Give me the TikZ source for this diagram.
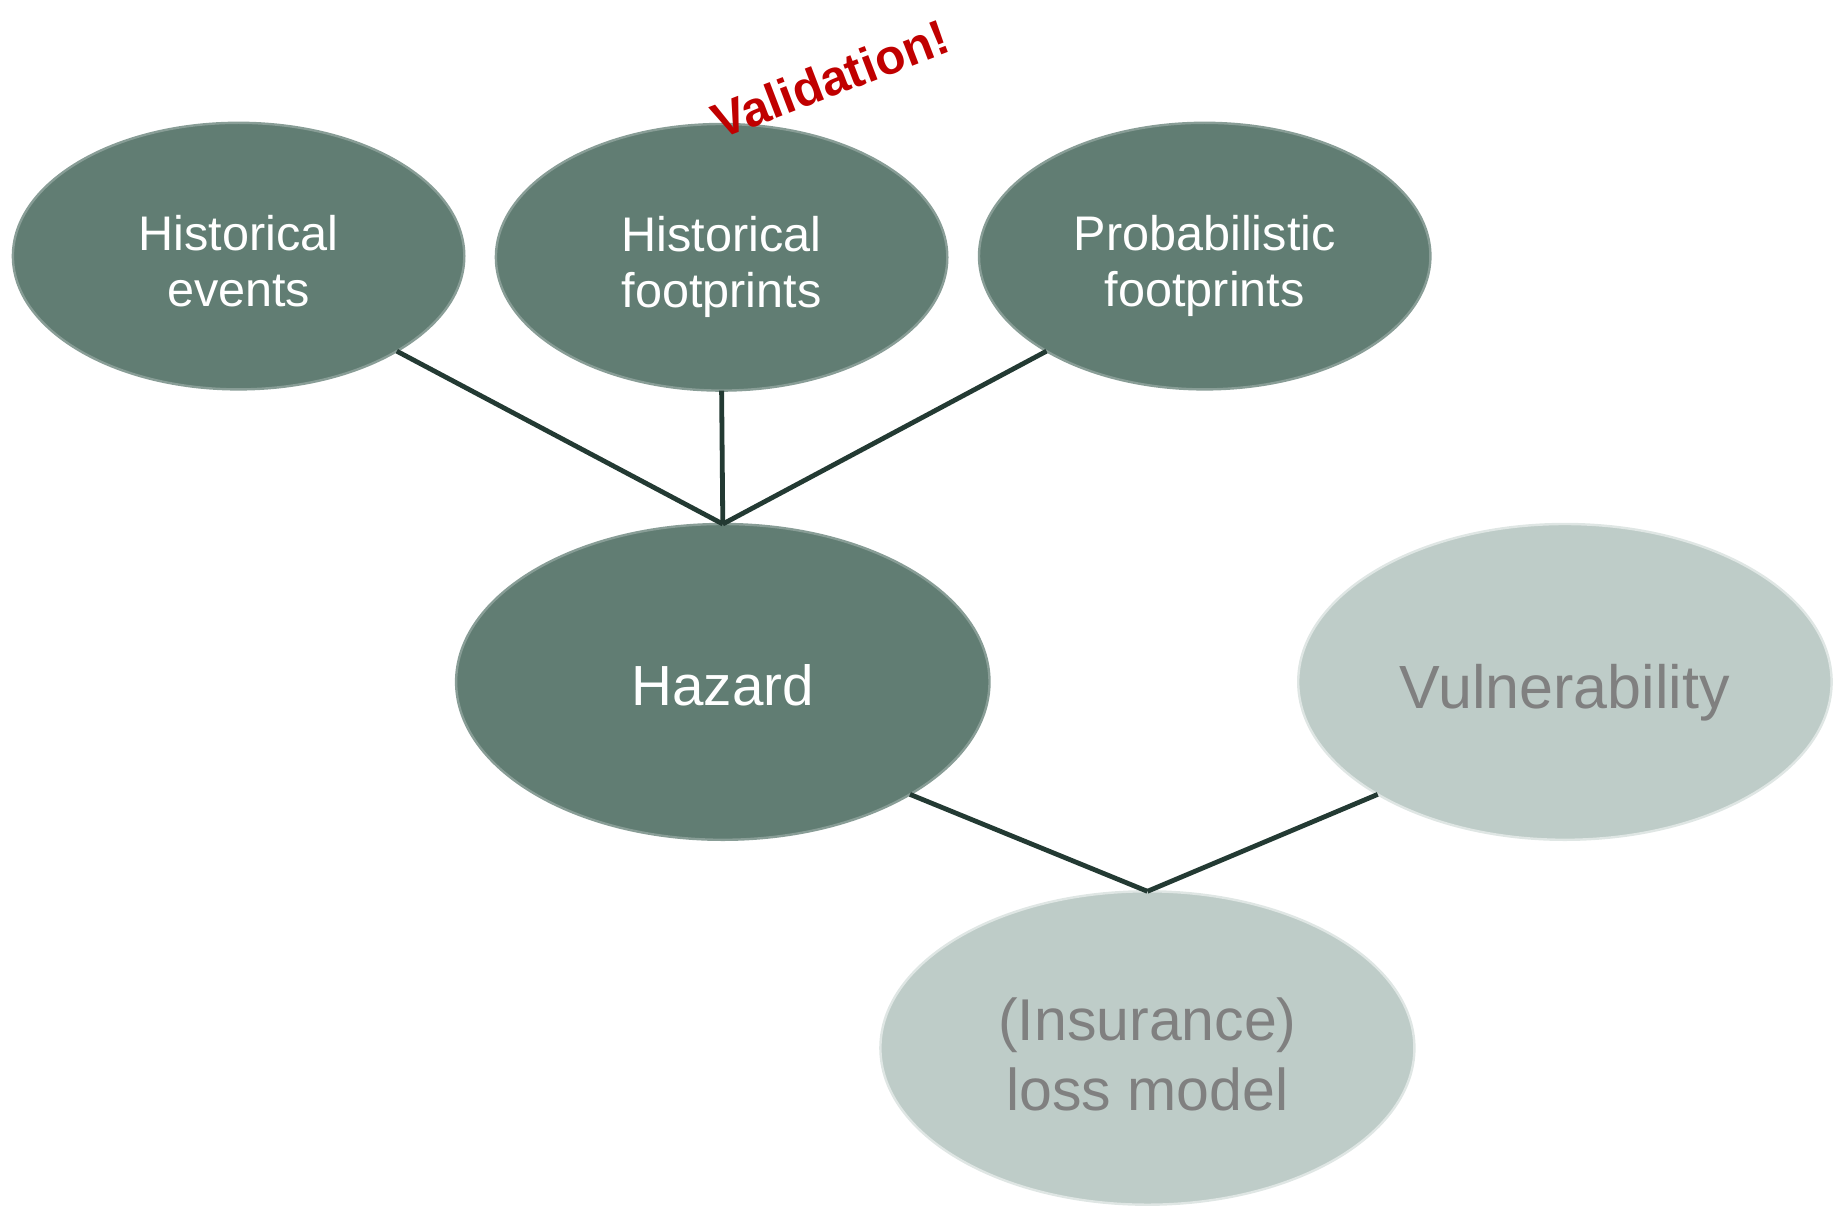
\documentclass[tikz,border=0pt]{standalone}
\usepackage{fontspec}
\setmainfont{Liberation Sans}
\usetikzlibrary{shapes.geometric}
\definecolor{darkg}{RGB}{97,125,115}
\definecolor{lightg}{RGB}{190,204,200}
\definecolor{linec}{RGB}{35,58,51}
\definecolor{txtgrey}{RGB}{128,128,128}
\definecolor{valred}{RGB}{192,0,0}
\newcommand{\lowertext}[2]{\raisebox{-#1}[\height][\depth]{\begin{tabular}{@{}c@{}}#2\end{tabular}}}
\begin{document}
\begin{tikzpicture}[x=0.5pt,y=-0.5pt,
  blob/.style={ellipse, inner sep=0pt, outer sep=0pt, line width=1.2pt},
  darkblob/.style={blob, fill=darkg, draw=darkg!75!white, text=white},
  lightblob/.style={blob, fill=lightg, draw=lightg!50!white, text=txtgrey},
  smallsize/.style={minimum width=225.7pt, minimum height=133.3pt, font=\fontsize{24.3}{28.2}\selectfont},
  bigsize/.style={minimum width=266.7pt, minimum height=157.9pt},
  losssize/.style={minimum width=267pt, minimum height=156.7pt, font=\fontsize{29.5}{35.2}\selectfont},
  conn/.style={draw=linec, line width=2.4pt}
]
\useasboundingbox (0,0) rectangle (1834,1208);

\node[darkblob, smallsize] (he) at (238.6,256.1) {\lowertext{5.6pt}{Historical\\events}};
\node[darkblob, smallsize] (hf) at (721.6,257.3) {\lowertext{5.6pt}{Historical\\footprints}};
\node[darkblob, smallsize] (pf) at (1204.7,256.1) {\lowertext{5.6pt}{Probabilistic\\footprints}};
\node[darkblob, bigsize, font=\fontsize{28.3}{34}\selectfont] (haz) at (722.8,681.9) {\lowertext{5.2pt}{Hazard}};
\node[lightblob, bigsize, font=\fontsize{30.5}{35}\selectfont] (vul) at (1564.9,681.9) {\lowertext{6.3pt}{Vulnerability}};
\node[lightblob, losssize] (loss) at (1147.4,1048) {\lowertext{6.6pt}{(Insurance)\\loss model}};

\coordinate (j1) at (haz.north);
\coordinate (j2) at (loss.north);

\draw[conn] (he.-31) -- (j1);
\draw[conn] (hf.south) -- (j1);
\draw[conn] (pf.-149) -- (j1);
\draw[conn] (haz.-31) -- (j2);
\draw[conn] (vul.-149) -- (j2);

\node[rotate=21, text=valred, inner sep=0pt, font=\bfseries\fontsize{24.6}{28}\selectfont] (val) at (830,79) {Validation!};
\end{tikzpicture}
\end{document}
